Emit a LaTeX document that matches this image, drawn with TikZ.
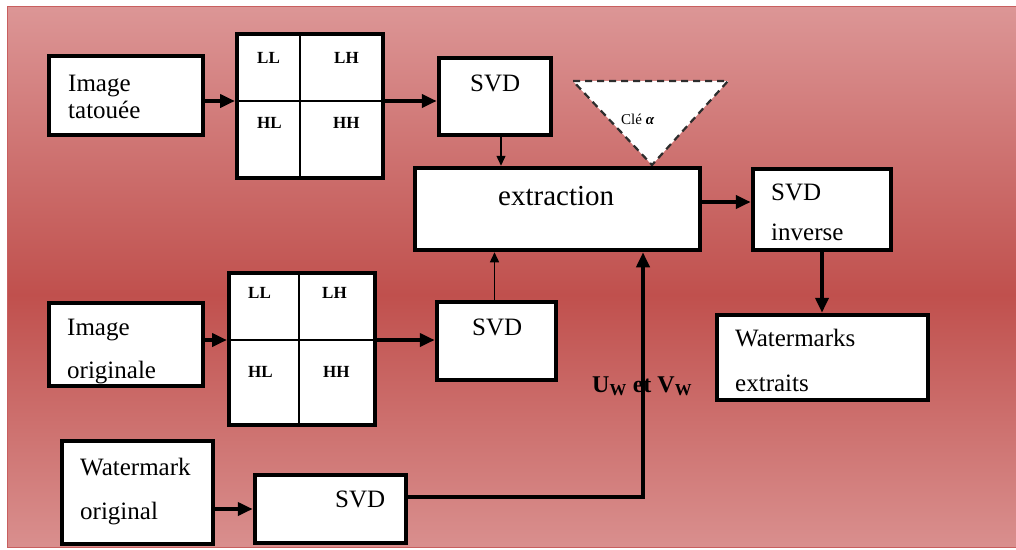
\documentclass[tikz,border=0pt]{standalone}
\usepackage{fontspec}
\setmainfont{Liberation Serif}
\usetikzlibrary{arrows.meta}
\definecolor{bgtop}{RGB}{220,150,150}
\definecolor{bgmid}{RGB}{192,80,77}
\definecolor{bgbot}{RGB}{217,143,142}
\definecolor{bgedge}{RGB}{200,95,95}
\definecolor{dashcol}{RGB}{45,45,45}
\begin{document}
\begin{tikzpicture}[x=1pt,y=-1pt,
  box/.style={draw=black,line width=4.5pt,fill=white,inner sep=0pt},
  gridbox/.style={draw=black,line width=4pt,fill=white,inner sep=0pt},
  gridline/.style={line width=1.2pt},
  txt/.style={anchor=base west,inner sep=0pt,font=\fontsize{25}{30}\selectfont},
  bigtxt/.style={anchor=base west,inner sep=0pt,font=\fontsize{29}{34}\selectfont},
  lab/.style={anchor=base west,inner sep=0pt,font=\fontsize{17}{20}\selectfont\bfseries},
  bigarrow/.style={line width=4pt,-{Triangle[length=15pt,width=13pt]}},
  thinarrow/.style={line width=1.4pt,-{Triangle[length=10pt,width=9pt]}},
  plainline/.style={line width=4pt}
]
\useasboundingbox (0,0) rectangle (1016,549);
% background
\begin{scope}[y=1pt]
\shade[top color=bgtop,bottom color=bgmid] (7,-6) rectangle (1016,-295);
\shade[top color=bgmid,bottom color=bgbot] (7,-294.5) rectangle (1016,-547);
\end{scope}
\draw[bgedge,line width=1pt] (7,6) rectangle (1016,547);

% boxes
\node[box,minimum width=154pt,minimum height=79pt] (tat) at (126,95.5) {};
\node[box,minimum width=154pt,minimum height=83pt] (orig) at (126,344.5) {};
\node[box,minimum width=151pt,minimum height=103pt] (wmo) at (137.5,492.5) {};
\node[gridbox,minimum width=146pt,minimum height=144pt] (g1) at (310,106) {};
\node[gridbox,minimum width=146pt,minimum height=152pt] (g2) at (302,349) {};
\node[box,minimum width=112pt,minimum height=77pt] (svd1) at (495,96.5) {};
\node[box,minimum width=119pt,minimum height=78pt] (svd2) at (496.5,341) {};
\node[box,minimum width=151pt,minimum height=68pt] (svd3) at (330.5,509) {};
\node[box,minimum width=285pt,minimum height=82pt] (ext) at (557.5,209) {};
\node[box,minimum width=138pt,minimum height=81pt] (svdi) at (822,209.5) {};
\node[box,minimum width=211pt,minimum height=85pt] (wme) at (822.5,357.5) {};

% grid internal lines
\coordinate (g1h) at (310,101);
\coordinate (g1v) at (300,106);
\coordinate (g2h) at (302,340);
\coordinate (g2v) at (299,349);
\draw[gridline] (g1.west |- g1h) -- (g1.east |- g1h);
\draw[gridline] (g1.north -| g1v) -- (g1.south -| g1v);
\draw[gridline] (g2.west |- g2h) -- (g2.east |- g2h);
\draw[gridline] (g2.north -| g2v) -- (g2.south -| g2v);

% key triangle
\coordinate (k1) at (573,81);
\coordinate (k2) at (728,81);
\coordinate (k3) at (652,165);
\draw[dashcol,fill=white,line width=2.2pt,dash pattern=on 7pt off 5pt,line join=round] (k1) -- (k2) -- (k3) -- cycle;

% texts
\node[txt] (t1a) at (68,91) {Image};
\node[txt] (t1b) at (68,118) {tatouée};
\node[txt] (t2a) at (67,335) {Image};
\node[txt] (t2b) at (67,378) {originale};
\node[txt] (t3a) at (80,475) {Watermark};
\node[txt] (t3b) at (80,519) {original};
\node[txt] (s1) at (470,91) {SVD};
\node[txt] (s2) at (472,335) {SVD};
\node[txt] (s3) at (335,507) {SVD};
\node[bigtxt] (ex) at (498,205) {extraction};
\node[txt] (si1) at (771,200) {SVD};
\node[txt] (si2) at (771,240) {inverse};
\node[txt] (we1) at (735,346) {Watermarks};
\node[txt] (we2) at (735,391) {extraits};
\node[lab] (l11) at (257,63) {LL};
\node[lab] (l12) at (334,63) {LH};
\node[lab] (l13) at (257,128) {HL};
\node[lab] (l14) at (333,128) {HH};
\node[lab] (l21) at (248,298) {LL};
\node[lab] (l22) at (322,298) {LH};
\node[lab] (l23) at (248,377) {HL};
\node[lab] (l24) at (323,377) {HH};
\node[anchor=base west,inner sep=0pt,font=\fontsize{15}{17}\selectfont] (cle) at (621,124) {Clé \textbf{\textit{α}}};
\node[anchor=base west,inner sep=0pt,font=\fontsize{24}{28}\selectfont\bfseries] (uv) at (592,392) {U\textsubscript{W} et V\textsubscript{W}};

% connectors
\draw[bigarrow] (tat.east |- g1h) -- (g1.west |- g1h);
\draw[bigarrow] (g1.east |- g1h) -- (svd1.west |- g1h);
\draw[thinarrow] ([xshift=6pt]svd1.south) -- ([xshift=6pt]svd1.south |- ext.north);
\draw[bigarrow] (orig.east |- g2h) -- (g2.west |- g2h);
\draw[bigarrow] (g2.east |- g2h) -- (svd2.west |- g2h);
\draw[thinarrow] ([xshift=-2pt]svd2.north) -- ([xshift=-2pt]svd2.north |- ext.south);
\draw[bigarrow] (wmo.east |- svd3.center) -- (svd3.west);
\draw[bigarrow] ([yshift=12pt]svd3.east) -| ([xshift=85.5pt]ext.south);
\draw[bigarrow] ([yshift=7pt]ext.east) -- ([yshift=7pt]ext.east -| svdi.west);
\draw[bigarrow] (svdi.south) -- (svdi.south |- wme.north);
\end{tikzpicture}
\end{document}
